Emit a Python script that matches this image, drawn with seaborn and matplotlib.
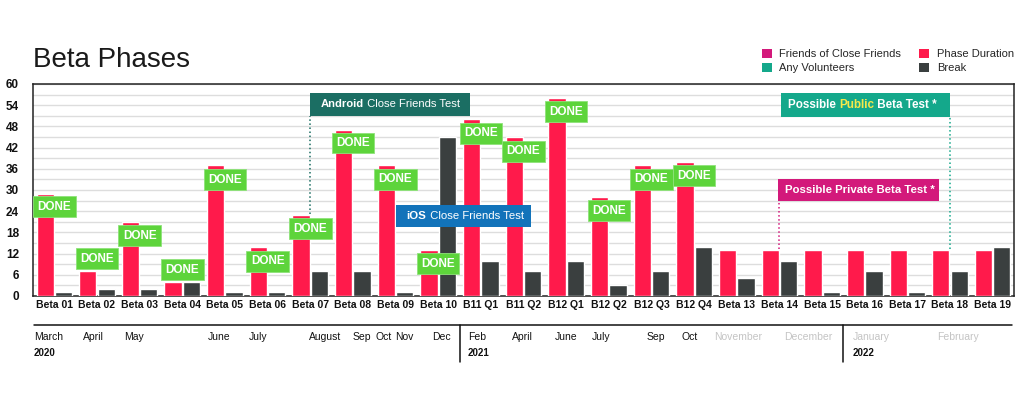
import matplotlib
matplotlib.use("Agg")
import matplotlib.pyplot as plt
import seaborn as sns
import pandas as pd
from matplotlib.patches import Rectangle, Patch
from matplotlib.lines import Line2D

# ---------------- data ----------------
categories = ["Beta 01", "Beta 02", "Beta 03", "Beta 04", "Beta 05", "Beta 06", "Beta 07",
              "Beta 08", "Beta 09", "Beta 10", "B11 Q1", "B11 Q2", "B12 Q1", "B12 Q2",
              "B12 Q3", "B12 Q4", "Beta 13", "Beta 14", "Beta 15", "Beta 16", "Beta 17",
              "Beta 18", "Beta 19"]
phase_duration = [29, 7, 21, 4, 37, 14, 23, 47, 37, 13, 50, 45, 56, 28, 37, 38,
                  13, 13, 13, 13, 13, 13, 13]
break_days = [1, 2, 2, 4, 1, 1, 7, 7, 1, 45, 10, 7, 10, 3, 7, 14,
              5, 10, 1, 7, 1, 7, 14]
done_count = 16  # first 16 phases are DONE
done_label_y = [25.2, 10.5, 17.0, 7.4, 32.9, 9.9, 19.0, 43.3, 33.1, 9.1, 46.1, 41.0,
                52.1, 24.1, 33.1, 34.0]

months_2020 = ["March", "April", "May", "June", "July", "August", "Sep", "Oct", "Nov", "Dec"]
months_2021 = ["Feb", "April", "June", "July", "Sep", "Oct", "November", "December"]
months_2022 = ["January", "February"]
years = ["2020", "2021", "2022"]

series_names = ["Phase Duration", "Break"]

# ---------------- style ----------------
RED = "#FF1A4B"
DARK = "#3A3F3F"
MAGENTA = "#D3197B"
TEAL = "#14A88B"
DKTEAL = "#1B6E63"
BLUE = "#1273BA"
GREEN = "#5DD43B"
FONT = "Liberation Sans"

sns.set_theme(style="white")
plt.rcParams["font.family"] = [FONT, "DejaVu Sans"]

W, H = 1024, 420
fig = plt.figure(figsize=(W / 100, H / 100), dpi=100)
ax = fig.add_axes([33 / W, 1 - 296 / H, (1014 - 33) / W, 212 / H])

df = pd.DataFrame({
    "category": categories * 2,
    "series": [series_names[0]] * len(categories) + [series_names[1]] * len(categories),
    "value": phase_duration + break_days,
})
sns.barplot(data=df, x="category", y="value", hue="series", hue_order=series_names,
            palette=[RED, DARK], width=0.86, gap=0.06, saturation=1, legend=False,
            ax=ax, zorder=3)

ax.set_ylim(0, 60)
ax.set_xlim(-0.5, len(categories) - 0.5)
ax.set_yticks(range(0, 61, 6))
ax.set_yticks(range(0, 61, 3), minor=True)
ax.grid(axis="y", which="both", color="#DDDDDD", lw=1, zorder=0)
ax.set_axisbelow(True)
ax.set_xlabel("")
ax.set_ylabel("")
ax.tick_params(axis="y", length=0, pad=10, labelsize=8.5, labelcolor="#111111")
ax.tick_params(axis="x", length=0, pad=3, labelsize=7.5, labelcolor="#111111")
for lab in ax.get_yticklabels() + ax.get_xticklabels():
    lab.set_fontweight("bold")
for s in ax.spines.values():
    s.set_visible(True)
    s.set_color("#222222")
    s.set_linewidth(1.1)

# DONE labels
for i in range(done_count):
    ax.text(i, done_label_y[i], "DONE", ha="center", va="center", color="white",
            fontsize=8.5, fontweight="bold", zorder=6,
            bbox=dict(boxstyle="square,pad=0.38", fc=GREEN, ec="#8EE27A", lw=0.6))


def label_box(x0, y0, w, h, color, parts, tx, ty, size=8):
    ax.add_patch(Rectangle((x0, y0), w, h, fc=color, ec="none", zorder=7, clip_on=False))
    prev = None
    for text, weight, col in parts:
        if prev is None:
            prev = ax.text(tx, ty, text, fontsize=size, fontweight=weight, color=col,
                           ha="left", va="center", zorder=8)
        else:
            prev = ax.annotate(text, xy=(1, 0), xycoords=prev, fontsize=size,
                               fontweight=weight, color=col, ha="left", va="bottom",
                               zorder=8)


# Android
ax.plot([6.0, 6.0], [23.2, 50.9], ls=":", color=DKTEAL, lw=1.1, zorder=5)
label_box(5.99, 50.9, 3.75, 6.6, DKTEAL,
          [("Android", "bold", "white"), (" Close Friends Test", "normal", "white")],
          6.24, 54.2, size=8.1)
# iOS
label_box(8.0, 19.5, 3.17, 6.3, BLUE,
          [("iOS", "bold", "white"), (" Close Friends Test", "normal", "white")],
          8.26, 22.6, size=8.2)
# Public
ax.plot([21.0, 21.0], [13.3, 50.7], ls=":", color=TEAL, lw=1.1, zorder=5)
label_box(17.04, 50.7, 3.96, 6.8, TEAL,
          [("Possible ", "bold", "white"), ("Public", "bold", "#F6E84A"),
           (" Beta Test *", "bold", "white")],
          17.2, 54.1, size=8.4)
# Private
ax.plot([17.0, 17.0], [13.3, 26.9], ls=":", color=MAGENTA, lw=1.1, zorder=5)
label_box(16.97, 26.9, 3.76, 6.2, MAGENTA,
          [("Possible Private Beta Test *", "bold", "white")],
          17.12, 30.0, size=8.2)

# Title
fig.text(33 / W, 1 - 67 / H, "Beta Phases", fontsize=20, fontweight="normal",
         color="#1A1A1A", va="baseline")

# Legend
handles = [Patch(fc=MAGENTA, ec="none"), Patch(fc=TEAL, ec="none"),
           Patch(fc=RED, ec="none"), Patch(fc=DARK, ec="none")]
labels = ["Friends of Close Friends", "Any Volunteers", "Phase Duration", "Break"]
fig.legend(handles, labels, ncol=2, loc="upper left", bbox_to_anchor=(756 / W, 1 - 43 / H),
           frameon=False, fontsize=8, handlelength=0.9, handleheight=0.9,
           handletextpad=0.7, columnspacing=1.6, labelspacing=0.35, borderpad=0)

# Timeline below the axes
def fy(py):
    return 1 - py / H

fig.add_artist(Line2D([34 / W, 1012 / W], [fy(325), fy(325)], color="#111111", lw=1.1))
for sx in (460, 843):
    fig.add_artist(Line2D([sx / W, sx / W], [fy(325), fy(362)], color="#111111", lw=1.1))

month_px_2020 = [34, 83, 124, 208, 249, 309, 353, 375, 395, 432]
month_px_2021 = [468, 512, 555, 592, 647, 682, 714, 784]
month_px_2022 = [853, 937]
grey_months = {"November", "December", "January", "February"}
for names, pxs in ((months_2020, month_px_2020), (months_2021, month_px_2021),
                   (months_2022, month_px_2022)):
    for name, px in zip(names, pxs):
        col = "#C4C4C4" if name in grey_months else "#111111"
        fig.text(px / W, fy(337), name, fontsize=7.5, color=col, ha="left", va="center")
for yr, px in zip(years, (34, 468, 853)):
    fig.text(px / W, fy(353), yr, fontsize=7, fontweight="bold", color="#111111",
             ha="left", va="center")

fig.savefig("out.png", dpi=100, facecolor="white")
